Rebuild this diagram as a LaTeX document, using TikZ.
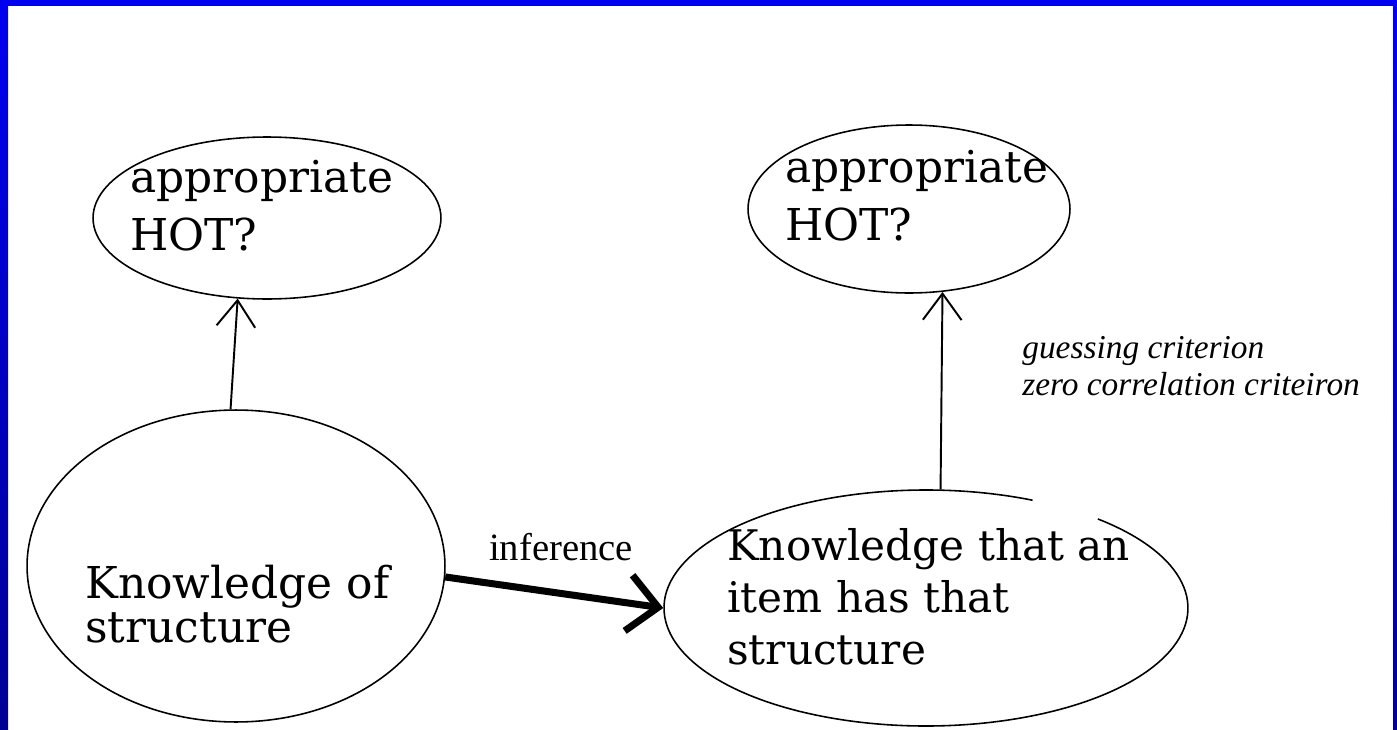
\documentclass[tikz,border=0pt]{standalone}
\usepackage{fontspec}
\setmainfont{Liberation Serif}
\newfontfamily\slabfont{DejaVu Serif}
\usetikzlibrary{shapes.geometric, arrows.meta, positioning}

\definecolor{frametop}{RGB}{0,0,240}
\definecolor{framebottom}{RGB}{0,0,150}

\begin{document}
\begin{tikzpicture}[x=0.02cm, y=-0.02cm,
    bubble/.style={ellipse, draw, line width=0.9pt, inner sep=0pt},
    bubbletext/.style={align=left, anchor=north west, inner sep=0pt, font=\slabfont\fontsize{25}{29}\selectfont},
    uparrow/.style={line width=1.1pt, -{Straight Barb[length=15pt, width=22pt]}},
    bigarrow/.style={line width=4pt, -{Straight Barb[length=17pt, width=32pt]}},
    note/.style={align=left, anchor=north west, inner sep=0pt, font=\itshape\fontsize{19}{21}\selectfont}
  ]

  % Frame
  \useasboundingbox (0,0) rectangle (1397,730);
  \fill[white] (0,0) rectangle (1397,730);
  \fill[frametop] (0,0) rectangle (1397,6);
  \shade[top color=frametop, bottom color=framebottom] (0,0) rectangle (8,730);
  \shade[top color=frametop, bottom color=framebottom] (1393,0) rectangle (1397,730);

  % Ellipses
  \node[bubble, minimum width=6.96cm, minimum height=3.24cm] (hotL) at (267,218) {};
  \node[bubble, minimum width=8.36cm, minimum height=6.24cm] (ks) at (236,566) {};
  \node[bubble, minimum width=6.44cm, minimum height=3.36cm] (hotR) at (909,209) {};
  \node[bubble, draw=none, minimum width=10.48cm, minimum height=4.72cm] (kt) at (926,608) {};
  % outline of the lower right ellipse, with its small break near the top
  \draw[line width=0.9pt] ([shift={(66:5.24cm and 2.36cm)}]kt.center)
    arc[start angle=66, end angle=409, x radius=5.24cm, y radius=2.36cm];

  % Texts
  \node[bubbletext, font=\slabfont\fontsize{25}{33}\selectfont] (hotLtxt) at (130,160) {appropriate\\HOT?};
  \node[bubbletext, font=\slabfont\fontsize{25}{33}\selectfont] (hotRtxt) at (785,150) {appropriate\\HOT?};
  \node[bubbletext, font=\slabfont\fontsize{25}{25}\selectfont] (kstxt) at (85,565) {Knowledge of\\structure};
  \node[bubbletext, font=\slabfont\fontsize{24}{29.5}\selectfont] (kttxt) at (727,528) {Knowledge that an\\item has that\\structure};

  % Arrows
  \draw[uparrow] (ks.92) -- (hotL.250);
  \draw[uparrow] (kt.83) -- (hotR.292);
  \draw[bigarrow] (ks.-3) -- (kt.180);

  % Labels
  \node[font=\fontsize{22}{24}\selectfont, inner sep=0pt] (inflbl) at (561,547) {inference};
  \node[note] (critlbl) at (1022,336) {guessing criterion\\zero correlation criteiron};

\end{tikzpicture}
\end{document}
